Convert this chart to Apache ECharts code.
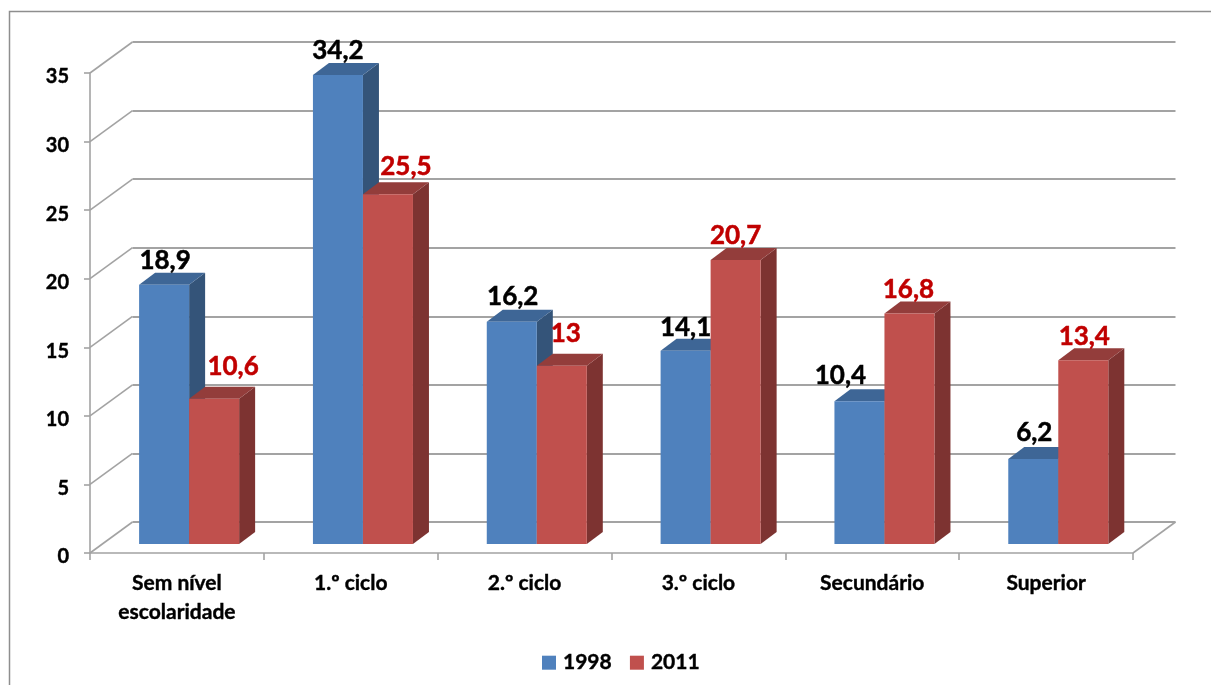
<!DOCTYPE html>
<html>
<head>
<meta charset="utf-8">
<title>Escolaridade 1998 / 2011</title>
<script src="https://cdn.jsdelivr.net/npm/echarts@6/dist/echarts.min.js"></script>
<style>
  html, body { margin: 0; padding: 0; background: #fff; }
  #main { width: 1211px; height: 685px; }
</style>
</head>
<body>
<div id="main"></div>
<script>
var categories = ["Sem nível\nescolaridade", "1.º ciclo", "2.º ciclo", "3.º ciclo", "Secundário", "Superior"];
var values1998 = [18.9, 34.2, 16.2, 14.1, 10.4, 6.2];
var values2011 = [10.6, 25.5, 13, 20.7, 16.8, 13.4];
var yTicks = [0, 5, 10, 15, 20, 25, 30, 35];

// mao: os rotulos do original nao estao todos centrados na barra
var labelShift1998 = [[1, -24.5], [0, -24.5], [1, -25.5], [0, -23.5], [-19, -26], [1, -26]];
var labelShift2011 = [[19, -32], [18, -28], [4, -32], [0, -25], [-1, -24], [1, -24]];

var FONT = "Lato, Carlito, 'Open Sans', sans-serif";
var GREY = "#A3A3A3";

// deslocamentos da perspetiva
var wallDx = 42.5, wallDy = -31;
var barShiftX = 12.2, barShiftY = -9;
var depthX = 16, depthY = -12;

function fmt(v) {
  return String(v).replace(".", ",");
}

function barRenderer(side, colors, shifts, labelColor) {
  return function (params, api) {
    var i = api.value(0);
    var v = api.value(1);
    var top = api.coord([i, v]);
    var base = api.coord([i, 0]);
    var w = api.size([1, 0])[0] * 0.2877;
    var x0 = top[0] + barShiftX + (side < 0 ? -w : 0);
    var x1 = x0 + w;
    var yt = top[1] + barShiftY;
    var yb = base[1] + barShiftY;
    var s = shifts[params.dataIndex];
    return {
      type: "group",
      children: [
        {
          type: "polygon",
          shape: { points: [[x1, yt], [x1 + depthX, yt + depthY], [x1 + depthX, yb + depthY], [x1, yb]] },
          style: { fill: colors.side }
        },
        {
          type: "polygon",
          shape: { points: [[x0, yt], [x0 + depthX, yt + depthY], [x1 + depthX, yt + depthY], [x1, yt]] },
          style: { fill: colors.top }
        },
        {
          type: "rect",
          shape: { x: x0, y: yt, width: w, height: yb - yt },
          style: { fill: colors.front }
        },
        {
          type: "text",
          z2: 50,
          style: {
            text: fmt(v),
            x: (x0 + x1) / 2 + s[0],
            y: yt + s[1],
            fill: labelColor,
            stroke: labelColor,
            lineWidth: 0.5,
            font: "bold 26px " + FONT,
            textAlign: "center",
            textVerticalAlign: "middle"
          }
        }
      ]
    };
  };
}

function wallRenderer(params, api) {
  var p = api.coord([0, api.value(1)]);
  var x = params.coordSys.x;
  return {
    type: "line",
    shape: { x1: x, y1: p[1], x2: x + wallDx, y2: p[1] + wallDy },
    style: { stroke: GREY, lineWidth: 1.6 }
  };
}

function floorRenderer(params, api) {
  var p = api.coord([0, 0]);
  var x = params.coordSys.x + params.coordSys.width;
  return {
    type: "line",
    shape: { x1: x, y1: p[1], x2: x + wallDx, y2: p[1] + wallDy },
    style: { stroke: GREY, lineWidth: 1.6 }
  };
}

var myChart = echarts.init(document.getElementById("main"));
myChart.setOption({
  animation: false,
  backgroundColor: "#fff",
  textStyle: { fontFamily: FONT },
  graphic: [
    {
      type: "polyline",
      silent: true,
      shape: { points: [[9.5, 685], [9.5, 11.5], [1211, 11.5]] },
      style: { fill: null, stroke: "#8E8E8E", lineWidth: 1.5 }
    }
  ],
  legend: {
    left: 537,
    top: 647,
    data: ["1998", "2011"],
    icon: "rect",
    itemWidth: 14,
    itemHeight: 14,
    itemGap: 18,
    textStyle: {
      fontFamily: FONT,
      fontWeight: "bold",
      fontSize: 21,
      color: "#000",
      textBorderColor: "#000",
      textBorderWidth: 0.4,
      padding: [0, 0, 0, 2]
    }
  },
  grid: [
    { left: 90, right: 78, top: 73, bottom: 132 },
    { left: 132.5, right: 35.5, top: 42, bottom: 163 }
  ],
  xAxis: [
    {
      type: "category",
      gridIndex: 0,
      data: categories,
      axisLine: { lineStyle: { color: GREY, width: 1.6 } },
      axisTick: { show: true, length: 7, lineStyle: { color: GREY, width: 1.6 } },
      axisLabel: {
        interval: 0,
        margin: 16,
        color: "#000",
        fontFamily: FONT,
        fontWeight: "bold",
        fontSize: 21,
        lineHeight: 29,
        textBorderColor: "#000",
        textBorderWidth: 0.4
      }
    },
    { type: "category", gridIndex: 1, data: categories, show: false }
  ],
  yAxis: [
    {
      type: "value",
      gridIndex: 0,
      min: 0,
      max: 35,
      interval: 5,
      axisLine: { show: true, lineStyle: { color: GREY, width: 1.6 } },
      axisTick: { show: true, length: 6, lineStyle: { color: GREY, width: 1.6 } },
      splitLine: { show: false },
      axisLabel: {
        margin: 21,
        color: "#000",
        fontFamily: FONT,
        fontWeight: "bold",
        fontSize: 20,
        verticalAlign: "top",
        lineHeight: 8,
        textBorderColor: "#000",
        textBorderWidth: 0.4
      }
    },
    {
      type: "value",
      gridIndex: 1,
      min: 0,
      max: 35,
      interval: 5,
      axisLine: { show: false },
      axisTick: { show: false },
      axisLabel: { show: false },
      splitLine: { show: true, lineStyle: { color: GREY, width: 1.8 } }
    }
  ],
  series: [
    {
      type: "custom",
      name: "paredes",
      xAxisIndex: 0,
      yAxisIndex: 0,
      z: 1,
      silent: true,
      renderItem: wallRenderer,
      data: yTicks.map(function (t) { return [0, t]; })
    },
    {
      type: "custom",
      name: "chao",
      xAxisIndex: 0,
      yAxisIndex: 0,
      z: 1,
      silent: true,
      renderItem: floorRenderer,
      data: [[0, 0]]
    },
    {
      type: "custom",
      name: "1998",
      xAxisIndex: 0,
      yAxisIndex: 0,
      z: 3,
      itemStyle: { color: "#4F81BD" },
      renderItem: barRenderer(-1, { front: "#4F81BD", top: "#3E6696", side: "#345479" }, labelShift1998, "#000"),
      data: values1998.map(function (v, i) { return [i, v]; })
    },
    {
      type: "custom",
      name: "2011",
      xAxisIndex: 0,
      yAxisIndex: 0,
      z: 4,
      itemStyle: { color: "#C0504D" },
      renderItem: barRenderer(1, { front: "#C0504D", top: "#933D3B", side: "#7D3331" }, labelShift2011, "#C00000"),
      data: values2011.map(function (v, i) { return [i, v]; })
    }
  ]
});
</script>
</body>
</html>
